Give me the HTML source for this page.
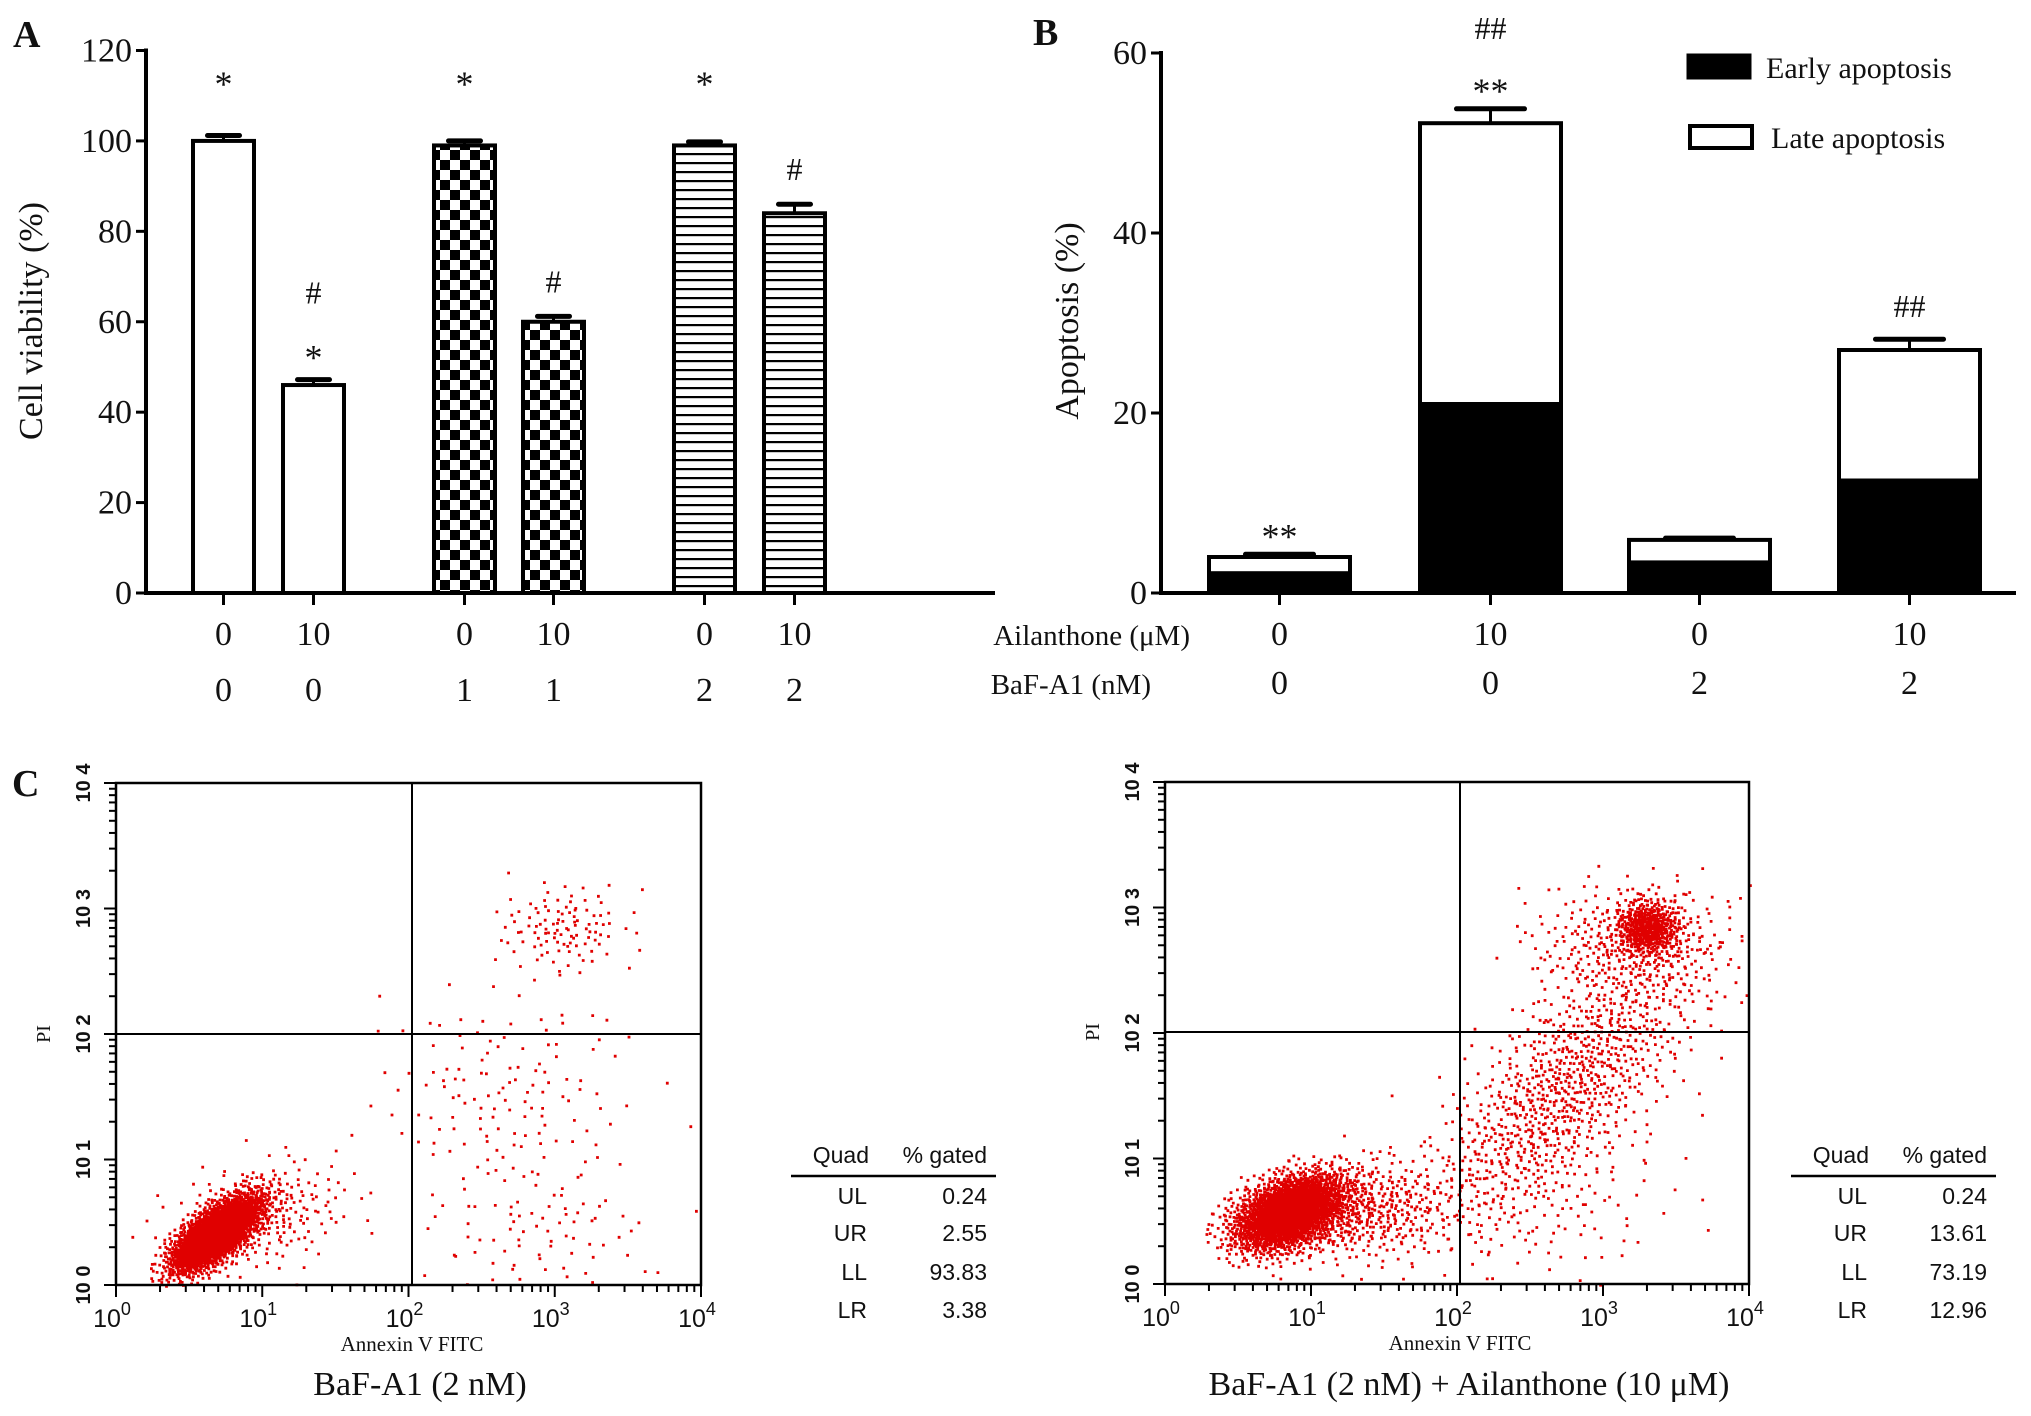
<!DOCTYPE html>
<html><head><meta charset="utf-8"><style>
html,body{margin:0;padding:0;background:#fff}
svg{display:block}
text{font-family:"Liberation Serif",serif;fill:#111}
.sans{font-family:"Liberation Sans",sans-serif}
</style></head><body>
<svg id="fig" width="2031" height="1416" viewBox="0 0 2031 1416" xmlns="http://www.w3.org/2000/svg">
<defs>
<pattern id="checker" width="20" height="20" patternUnits="userSpaceOnUse">
<rect width="20" height="20" fill="#fff"/><rect width="10" height="10" fill="#000"/><rect x="10" y="10" width="10" height="10" fill="#000"/>
</pattern>
<pattern id="stripes" width="10" height="9" patternUnits="userSpaceOnUse">
<rect width="10" height="9" fill="#fff"/><rect y="0" width="10" height="2.2" fill="#000"/>
</pattern>
</defs>
<g id="panelA"></g>
<g id="panelB"></g>
<g id="panelC"></g>
</svg>
<script>
// ---------- Panel A data ----------
const aAilanthone = ["0","10","0","10","0","10"];
const aBafA1 = ["0","0","1","1","2","2"];
const aValues = [100, 46, 99, 60, 99, 84];
const aErrors = [1.2, 1.2, 1.0, 1.2, 0.8, 2.0];
const aFills = ["#fff","#fff","url(#checker)","url(#checker)","url(#stripes)","url(#stripes)"];
const aMarks = [["*"],["*","#"],["*"],["#"],["*"],["#"]];
const aTicks = [0,20,40,60,80,100,120];
// ---------- Panel B data ----------
const bAilanthone = ["0","10","0","10"];
const bBafA1 = ["0","0","2","2"];
const bEarly = [2.2, 21, 3.4, 12.5];
const bTotal = [4.0, 52.2, 5.9, 27.0];
const bErrors = [0.3, 1.6, 0.2, 1.2];
const bMarks = [["**"],["**","##"],[],["##"]];
const bTicks = [0,20,40,60];
// ---------- Panel C data (log10 coordinates) ----------
const c1Clusters = [ // [cx, cy, sx, sy, rho, n]
 [0.68,0.42,0.15,0.15,0.7,2600],[0.95,0.55,0.3,0.22,0.3,260],[3.05,2.85,0.22,0.18,0,110],[2.65,1.5,0.45,0.45,0,140],[2.9,0.4,0.4,0.3,0,80]];
const c2Clusters = [
 [0.85,0.58,0.19,0.15,0.4,2400],[1.3,0.6,0.35,0.2,0.1,500],[3.3,2.85,0.11,0.11,0,450],[3.2,2.7,0.35,0.25,0,350],[2.75,1.6,0.45,0.55,0.7,900],[2.5,0.7,0.5,0.35,0,150]];
const c1Table = [["UL","0.24"],["UR","2.55"],["LL","93.83"],["LR","3.38"]];
const c2Table = [["UL","0.24"],["UR","13.61"],["LL","73.19"],["LR","12.96"]];
const cDecades = [0,1,2,3,4];

const NS="http://www.w3.org/2000/svg";
function mk(tag, attrs, parent, txt){
  const e=document.createElementNS(NS,tag);
  for(const k in attrs) e.setAttribute(k,attrs[k]);
  if(txt!==undefined) e.textContent=txt;
  parent.appendChild(e); return e;
}

// ===== Panel A =====
(function(){
  const g=document.getElementById('panelA');
  const x0=146, xEnd=995, yTop=50.5, yBot=593;
  const y=v=>yBot-(v/120)*(yBot-yTop);
  const barX=[193,283,434,523,674,764], bw=61;
  let t=mk('text',{x:13,y:47,'font-size':38,'font-weight':'bold'},g,'A');
   
  t=mk('text',{x:0,y:0,'font-size':34,'text-anchor':'middle',transform:'translate(42,321) rotate(-90)'},g,'Cell viability (%)');
   
  let ax=mk('line',{x1:x0,y1:yTop-2,x2:x0,y2:yBot+2,stroke:'#000','stroke-width':4},g);
   
  ax=mk('line',{x1:x0-2,y1:yBot,x2:xEnd,y2:yBot,stroke:'#000','stroke-width':4},g);
   
  aTicks.forEach(v=>{
    mk('line',{x1:x0-10,y1:y(v),x2:x0,y2:y(v),stroke:'#000','stroke-width':3},g);
    const tl=mk('text',{x:x0-14,y:y(v)+11,'font-size':34,'text-anchor':'end'},g,String(v));
     
  });
  aValues.forEach((v,i)=>{
    const cx=barX[i]+bw/2;
    const top=y(v+aErrors[i]);
    mk('line',{x1:cx,y1:y(v),x2:cx,y2:top,stroke:'#000','stroke-width':3},g);
    mk('line',{x1:cx-16,y1:top,x2:cx+16,y2:top,stroke:'#000','stroke-width':5,'stroke-linecap':'round'},g);
    const r=mk('rect',{x:barX[i],y:y(v),width:bw,height:yBot-y(v),fill:aFills[i],stroke:'#000','stroke-width':4},g);
     
    mk('line',{x1:cx,y1:yBot,x2:cx,y2:yBot+12,stroke:'#000','stroke-width':3},g);
    let l=mk('text',{x:cx,y:645,'font-size':34,'text-anchor':'middle'},g,aAilanthone[i]);
     
    l=mk('text',{x:cx,y:701,'font-size':34,'text-anchor':'middle'},g,aBafA1[i]);
     
    let my=y(v+aErrors[i])-24;
    aMarks[i].forEach(m=>{
      let yy = (i===0||i===2||i===4)? 96 : my+ (m==='*'?14:0);
      const s=mk('text',{x:cx,y:yy,'font-size':m==='*'?36:32,'text-anchor':'middle'},g,m);
       
      my-=52;
    });
  });
})();

// ===== Panel B =====
(function(){
  const g=document.getElementById('panelB');
  const x0=1161, xEnd=2016, yTop=53, yBot=593;
  const y=v=>yBot-(v/60)*(yBot-yTop);
  const barX=[1209,1420,1629,1839], bw=141;
  let t=mk('text',{x:1033,y:45,'font-size':38,'font-weight':'bold'},g,'B');
   
  t=mk('text',{x:0,y:0,'font-size':34,'text-anchor':'middle',transform:'translate(1078,321) rotate(-90)'},g,'Apoptosis (%)');
   
  let ax=mk('line',{x1:x0,y1:yTop-2,x2:x0,y2:yBot+2,stroke:'#000','stroke-width':4},g);
   
  ax=mk('line',{x1:x0-2,y1:yBot,x2:xEnd,y2:yBot,stroke:'#000','stroke-width':4},g);
   
  bTicks.forEach(v=>{
    mk('line',{x1:x0-10,y1:y(v),x2:x0,y2:y(v),stroke:'#000','stroke-width':3},g);
    const tl=mk('text',{x:x0-14,y:y(v)+11,'font-size':34,'text-anchor':'end'},g,String(v));
     
  });
  let l=mk('text',{x:1190,y:645,'font-size':29,'text-anchor':'end'},g,'Ailanthone (μM)');
   
  l=mk('text',{x:1151,y:694,'font-size':29,'text-anchor':'end'},g,'BaF-A1 (nM)');
   
  bTotal.forEach((v,i)=>{
    const cx=barX[i]+bw/2;
    const top=y(v+bErrors[i]);
    mk('line',{x1:cx,y1:y(v),x2:cx,y2:top,stroke:'#000','stroke-width':3},g);
    mk('line',{x1:cx-34,y1:top,x2:cx+34,y2:top,stroke:'#000','stroke-width':5,'stroke-linecap':'round'},g);
    let r=mk('rect',{x:barX[i],y:y(v),width:bw,height:yBot-y(v),fill:'#fff',stroke:'#000','stroke-width':4},g);
     
    r=mk('rect',{x:barX[i],y:y(bEarly[i]),width:bw,height:yBot-y(bEarly[i]),fill:'#000',stroke:'#000','stroke-width':4},g);
     
    mk('line',{x1:cx,y1:yBot,x2:cx,y2:yBot+12,stroke:'#000','stroke-width':3},g);
    let a=mk('text',{x:cx,y:645,'font-size':34,'text-anchor':'middle'},g,bAilanthone[i]);
     
    a=mk('text',{x:cx,y:694,'font-size':34,'text-anchor':'middle'},g,bBafA1[i]);
     
    let my=top-22;
    bMarks[i].forEach(m=>{
      const s=mk('text',{x:cx,y:my+(m==='**'?16:0),'font-size':m==='**'?36:32,'text-anchor':'middle'},g,m);
       
      my-=48;
    });
  });
  const lg=mk('g',{},g);
   
  let e=mk('rect',{x:1688,y:55,width:62,height:23,fill:'#000',stroke:'#000','stroke-width':3},lg);
   
  e=mk('text',{x:1766,y:78,'font-size':30},lg,'Early apoptosis');
   
  e=mk('rect',{x:1690,y:126,width:62,height:22,fill:'#fff',stroke:'#000','stroke-width':4},lg);
   
  e=mk('text',{x:1771,y:148,'font-size':30},lg,'Late apoptosis');
   
})();

// ===== Panel C =====
(function(){
  const g=document.getElementById('panelC');
  let t=mk('text',{x:12,y:796,'font-size':38,'font-weight':'bold'},g,'C');
   
  function seq(i,b){let f=1,r=0;while(i>0){f/=b;r+=f*(i%b);i=Math.floor(i/b);}return r;}
  function plot(x0,x1,yT,yB,vline,hline,clusters,table,tx,title,name){
    const pg=mk('g',{},g);
     
    const X=v=>x0+(v/4)*(x1-x0), Y=v=>yB-(v/4)*(yB-yT);
    let d='';
    let idx=1;
    clusters.forEach(c=>{
      for(let k=0;k<c[5];k++,idx++){
        const u1=Math.max(seq(idx,2),1e-3), u2=seq(idx,3);
        const rr=Math.min(Math.sqrt(-2*Math.log(u1)),3);
        const z1=rr*Math.cos(2*Math.PI*u2), z2=rr*Math.sin(2*Math.PI*u2);
        const lx=c[0]+c[2]*z1, ly=c[1]+c[3]*(c[4]*z1+Math.sqrt(1-c[4]*c[4])*z2);
        if(lx<0||lx>4||ly<0||ly>4) continue;
        const px=X(lx), py=Y(ly);
        d+='M'+px.toFixed(1)+' '+py.toFixed(1)+'h2.8v2.8h-2.8z';
      }
    });
    const dots=mk('path',{d:d,fill:'#e00000'},pg);
     
    const box=mk('rect',{x:x0,y:yT,width:x1-x0,height:yB-yT,fill:'none',stroke:'#000','stroke-width':2.5},pg);
     
    let q=mk('line',{x1:vline,y1:yT,x2:vline,y2:yB,stroke:'#000','stroke-width':2},pg);
     
    q=mk('line',{x1:x0,y1:hline,x2:x1,y2:hline,stroke:'#000','stroke-width':2},pg);
     
    cDecades.forEach(dd=>{
      for(let m=1;m<=(dd<4?9:1);m++){
        const v=dd+Math.log10(m), big=m===1;
        mk('line',{x1:X(v),y1:yB,x2:X(v),y2:yB+(big?12:7),stroke:'#000','stroke-width':2},pg);
        mk('line',{x1:x0,y1:Y(v),x2:x0-(big?12:7),y2:Y(v),stroke:'#000','stroke-width':2},pg);
      }
      let l=mk('text',{x:X(dd)-4,y:yB+42,'font-size':25,'text-anchor':'middle',class:'sans'},pg,'10');
      mk('tspan',{dy:-12,'font-size':18},l,String(dd));
       
      l=mk('text',{x:0,y:0,'font-size':20,'text-anchor':'middle',class:'sans','font-weight':'bold',transform:'translate('+(x0-26)+','+(Y(dd))+') rotate(-90)'},pg,'10 '+dd);
       
    });
    let l=mk('text',{x:vline,y:yB+66,'font-size':21,'text-anchor':'middle'},pg,'Annexin V FITC');
     
    l=mk('text',{x:0,y:0,'font-size':20,'text-anchor':'middle',transform:'translate('+(x0-66)+','+hline+') rotate(-90)'},pg,'PI');
     
    l=mk('text',{x:title[1],y:1395,'font-size':34,'text-anchor':'middle'},pg,title[0]);
     
    const tg=mk('g',{},pg);
     
    mk('text',{x:tx+78,y:1163,'font-size':23,'text-anchor':'end',class:'sans'},tg,'Quad');
    mk('text',{x:tx+196,y:1163,'font-size':23,'text-anchor':'end',class:'sans'},tg,'% gated');
    mk('line',{x1:tx,y1:1176,x2:tx+205,y2:1176,stroke:'#000','stroke-width':2.5},tg);
    const rowsY=[1204,1241,1280,1318];
    table.forEach((r,i)=>{
      let c=mk('text',{x:tx+76,y:rowsY[i],'font-size':23,'text-anchor':'end',class:'sans'},tg,r[0]);
       
      c=mk('text',{x:tx+196,y:rowsY[i],'font-size':23,'text-anchor':'end',class:'sans'},tg,r[1]);
       
    });
  }
  plot(116,701,783,1285,412,1034,c1Clusters,c1Table,791,['BaF-A1 (2 nM)',420],'flow-plot-bafa1');
  plot(1165,1749,782,1284,1460,1032,c2Clusters,c2Table,1791,['BaF-A1 (2 nM) + Ailanthone (10 μM)',1469],'flow-plot-bafa1-ailanthone');
})();
</script>
</body></html>
